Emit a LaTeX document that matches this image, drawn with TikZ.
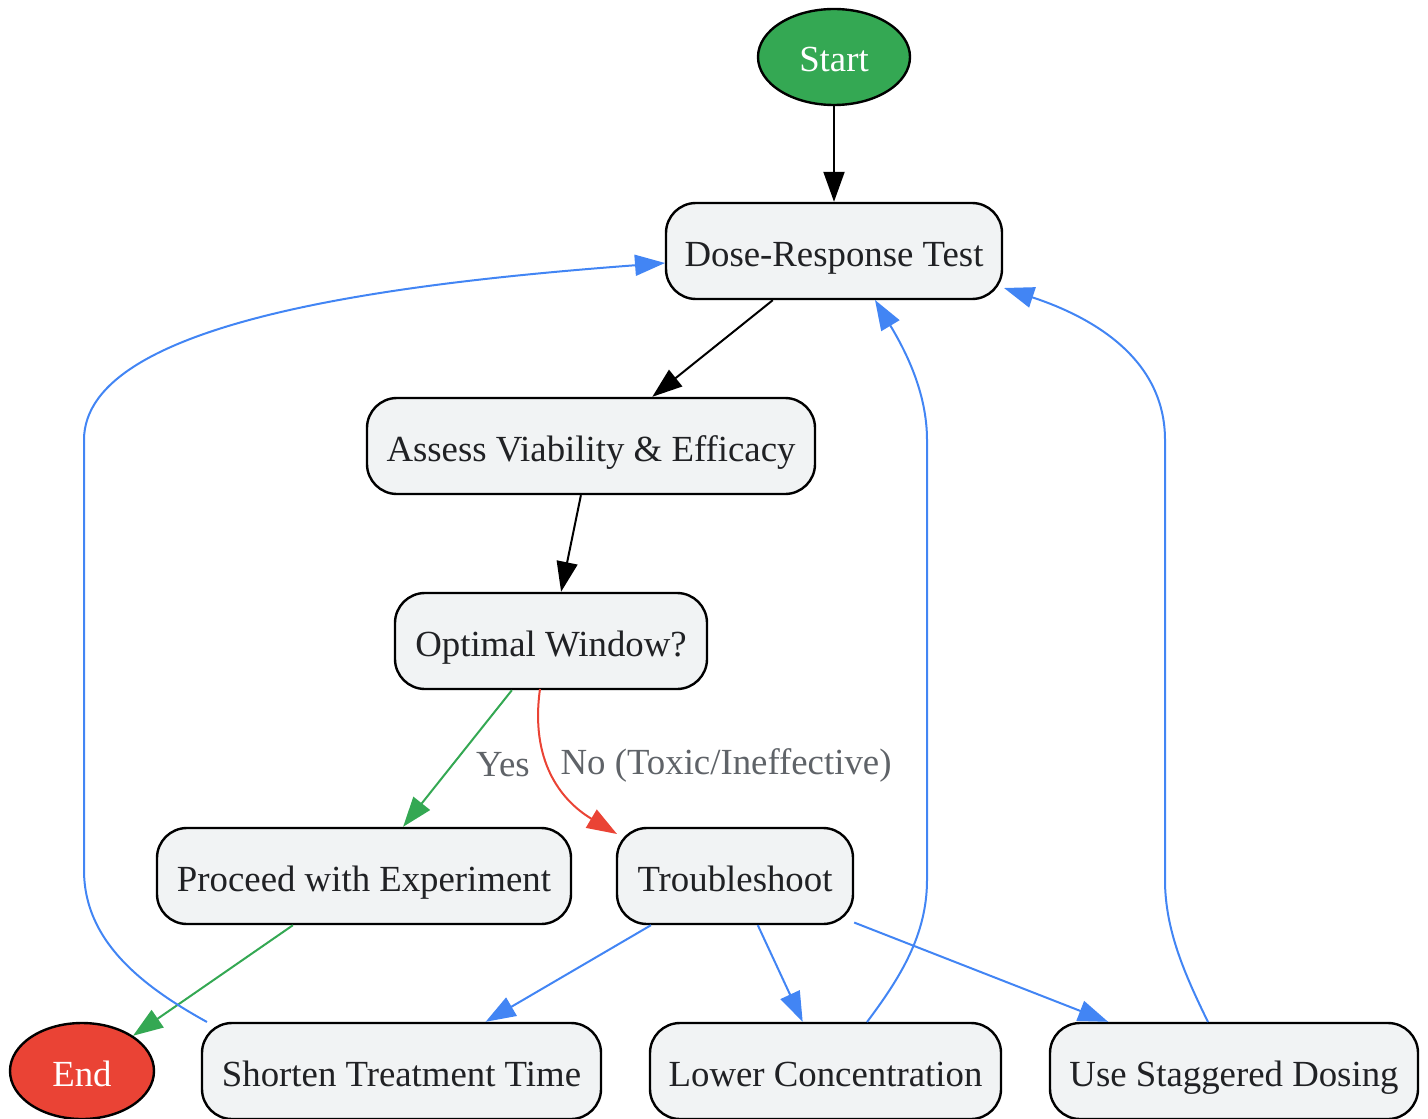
\documentclass[tikz,border=0pt]{standalone}
\usepackage{fontspec}
\setmainfont{Liberation Serif}
\usetikzlibrary{arrows.meta,shapes.geometric}
\definecolor{boxfill}{HTML}{F1F3F4}
\definecolor{txt}{HTML}{202124}
\definecolor{ggreen}{HTML}{34A853}
\definecolor{gred}{HTML}{EA4335}
\definecolor{gblue}{HTML}{4285F4}
\definecolor{lblgray}{HTML}{5F6368}
\tikzset{
  procbox/.style={draw=black, line width=1.2pt, fill=boxfill, rounded corners=15pt,
    minimum height=48pt, inner sep=0pt, text=txt, font=\fontsize{18.4}{22}\selectfont,
    text height=16pt, text depth=1pt},
  termnode/.style={draw=black, line width=1.2pt, ellipse, inner sep=0pt,
    minimum height=48pt, text=white, font=\fontsize{18.4}{22}\selectfont,
    text height=16pt, text depth=1pt},
  edge/.style={line width=1pt, -{Triangle[length=15pt,width=10.5pt]}},
  lbl/.style={text=lblgray, font=\fontsize{18.4}{22}\selectfont, inner sep=0pt}
}
\begin{document}
\begin{tikzpicture}[x=0.5pt,y=-0.5pt]
\useasboundingbox (0,0) rectangle (1428,1118);
% nodes
\node[termnode, fill=ggreen, minimum width=76pt] (start) at (834,57) {Start};
\node[procbox, minimum width=168pt] (dose) at (834,251) {Dose-Response Test};
\node[procbox, minimum width=224pt] (assess) at (591,446) {Assess Viability \& Efficacy};
\node[procbox, minimum width=156pt] (opt) at (551,641) {Optimal Window?};
\node[procbox, minimum width=207pt] (proceed) at (364,876) {Proceed with Experiment};
\node[procbox, minimum width=118pt] (trouble) at (735,876) {Troubleshoot};
\node[termnode, fill=gred, minimum width=72pt] (end) at (82,1071) {End};
\node[procbox, minimum width=199.5pt] (shorten) at (401.5,1071) {Shorten Treatment Time};
\node[procbox, minimum width=175.5pt] (lower) at (825.5,1071) {Lower Concentration};
\node[procbox, minimum width=184pt] (stagger) at (1234,1071) {Use Staggered Dosing};
% straight edges
\draw[edge] (start) -- (dose);
\draw[edge] (dose) -- (assess);
\draw[edge] (assess) -- (opt);
\draw[edge, draw=ggreen] (opt) -- (proceed);
\draw[edge, draw=ggreen] (proceed) -- (end);
\draw[edge, draw=gblue] (trouble) -- (shorten);
\draw[edge, draw=gblue] (trouble) -- (lower);
\draw[edge, draw=gblue] (trouble) -- (stagger);
% curved edges
\coordinate (noStart) at (540,689);
\coordinate (noEnd) at (617,834);
\draw[edge, draw=gred] (noStart) .. controls (530,760) and (560,800) .. (noEnd);
\coordinate (sA) at (207,1022);
\coordinate (sB) at (665,263);
\draw[edge, draw=gblue] (sA) .. controls (140,985) and (84,940) .. (84,870)
  -- (84,440) .. controls (84,320) and (400,283) .. (sB);
\coordinate (lA) at (867,1022);
\coordinate (lB) at (875,300);
\draw[edge, draw=gblue] (lA) .. controls (900,978) and (927,935) .. (927,880)
  -- (927,440) .. controls (927,392) and (905,350) .. (lB);
\coordinate (gA) at (1208,1022);
\coordinate (gB) at (1004,288);
\draw[edge, draw=gblue] (gA) .. controls (1185,975) and (1165,930) .. (1165,880)
  -- (1165,440) .. controls (1165,360) and (1095,318) .. (gB);
% labels
\node[lbl] (yes) at (503,765) {Yes};
\node[lbl] (no) at (726,765) {No (Toxic/Ineffective)};
\end{tikzpicture}
\end{document}
